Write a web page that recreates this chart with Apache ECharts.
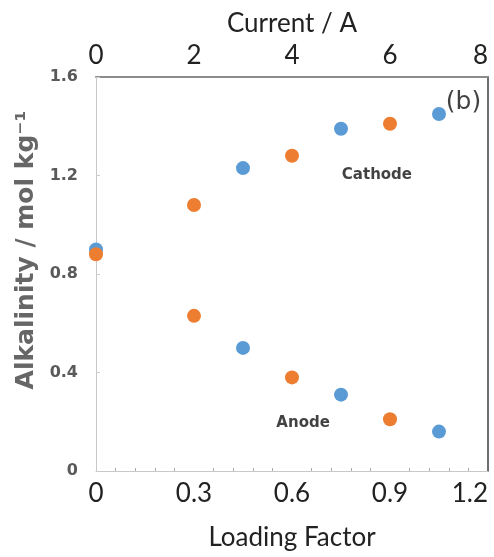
<!DOCTYPE html>
<html>
<head>
<meta charset="utf-8">
<script src="https://cdn.jsdelivr.net/npm/echarts@6/dist/echarts.min.js"></script>
<style>
  html, body { margin: 0; padding: 0; background: #fff; }
  #chart { width: 494px; height: 557px; }
</style>
</head>
<body>
<div id="chart"></div>
<script>
// loading factor positions of the two runs
const orangeX = [0, 0.3, 0.6, 0.9];
const orangeCathode = [0.88, 1.08, 1.28, 1.41];
const orangeAnode = [null, 0.63, 0.38, 0.21];

const blueX = [0, 0.45, 0.75, 1.05];
const blueCathode = [0.9, 1.23, 1.39, 1.45];
const blueAnode = [null, 0.5, 0.31, 0.16];

// text notes inside the plot: [loading factor, alkalinity, text]
const notes = [
  [0.86, 1.2, "Cathode"],
  [0.634, 0.195, "Anode"],
];
const panelTag = [[1.125, 1.495, "(b)"]];

const blue = "#5b9bd5";
const orange = "#ed7d31";

function pairs(xs, ys) {
  const out = [];
  xs.forEach((x, i) => {
    if (ys[i] != null) out.push([x, ys[i]]);
  });
  return out;
}

const chart = echarts.init(document.getElementById("chart"));

const option = {
  animation: false,
  grid: { left: 96, right: 6, top: 77, bottom: 86, outerBoundsMode: "none" },
  xAxis: [
    {
      type: "value",
      min: 0,
      max: 1.2,
      interval: 0.3,
      name: "Loading Factor",
      nameLocation: "middle",
      nameGap: 54,
      nameTextStyle: { fontFamily: "Lato", fontSize: 26, color: "#222" },
      axisLine: { show: true, onZero: false, lineStyle: { color: "#c8c8c8", width: 1 } },
      axisTick: { show: false, inside: true },
      minorTick: { show: true, splitNumber: 5, length: 3, lineStyle: { color: "#aaa" } },
      splitLine: { show: false },
      axisLabel: {
        margin: 10,
        fontFamily: "Lato",
        fontSize: 26,
        color: "#222",
        alignMaxLabel: "right",
        formatter: (v) => (v === 0 ? "0" : v.toFixed(1)),
      },
    },
    {
      type: "value",
      position: "top",
      min: 0,
      max: 8,
      interval: 2,
      name: "Current / A",
      nameLocation: "middle",
      nameGap: 40,
      nameTextStyle: { fontFamily: "Lato", fontSize: 26, color: "#222" },
      axisLine: { show: true, onZero: false, lineStyle: { color: "#8c8c8c", width: 2 } },
      axisTick: { show: false },
      splitLine: { show: false },
      axisLabel: {
        margin: 8,
        fontFamily: "Lato",
        fontSize: 26,
        color: "#222",
        alignMaxLabel: "right",
      },
    },
  ],
  yAxis: [
    {
      type: "value",
      min: 0,
      max: 1.6,
      interval: 0.4,
      name: "Alkalinity / mol kg\u207B\u00B9",
      nameLocation: "middle",
      nameGap: 56,
      nameTextStyle: {
        fontFamily: "DejaVu Sans",
        fontWeight: "bold",
        fontSize: 25,
        color: "#666",
        padding: [0, 0, 0, 48],
      },
      axisLine: { show: true, onZero: false, lineStyle: { color: "#c8c8c8", width: 1 } },
      axisTick: { show: true, inside: true, length: 4, lineStyle: { color: "#ccc" } },
      splitLine: { show: false },
      axisLabel: {
        margin: 18,
        fontFamily: "DejaVu Sans",
        fontWeight: "bold",
        fontSize: 16,
        color: "#5a5a5a",
        formatter: (v) => (v === 0 ? "0" : v.toFixed(1)),
      },
    },
    {
      type: "value",
      position: "right",
      min: 0,
      max: 1.6,
      interval: 0.4,
      axisLine: { show: true, onZero: false, lineStyle: { color: "#6e6e6e", width: 2 } },
      axisTick: { show: false },
      axisLabel: { show: false },
      splitLine: { show: false },
    },
  ],
  series: [
    {
      type: "scatter",
      name: "blue cathode",
      symbolSize: 14,
      itemStyle: { color: blue, opacity: 1 },
      data: pairs(blueX, blueCathode),
    },
    {
      type: "scatter",
      name: "blue anode",
      symbolSize: 14,
      itemStyle: { color: blue, opacity: 1 },
      data: pairs(blueX, blueAnode),
    },
    {
      type: "scatter",
      name: "orange cathode",
      symbolSize: 14,
      itemStyle: { color: orange, opacity: 1 },
      data: pairs(orangeX, orangeCathode),
    },
    {
      type: "scatter",
      name: "orange anode",
      symbolSize: 14,
      itemStyle: { color: orange, opacity: 1 },
      data: pairs(orangeX, orangeAnode),
    },
    {
      type: "scatter",
      name: "notes",
      symbolSize: 0,
      silent: true,
      data: notes,
      label: {
        show: true,
        position: "inside",
        formatter: (p) => p.data[2],
        fontFamily: "DejaVu Sans",
        fontWeight: "bold",
        fontSize: 15,
        color: "#111",
      },
    },
    {
      type: "scatter",
      name: "tag",
      symbolSize: 0,
      silent: true,
      data: panelTag,
      label: {
        show: true,
        position: "inside",
        formatter: (p) => p.data[2],
        fontFamily: "DejaVu Sans",
        fontSize: 25,
        color: "#111",
      },
    },
  ],
};

chart.setOption(option);
</script>
</body>
</html>
